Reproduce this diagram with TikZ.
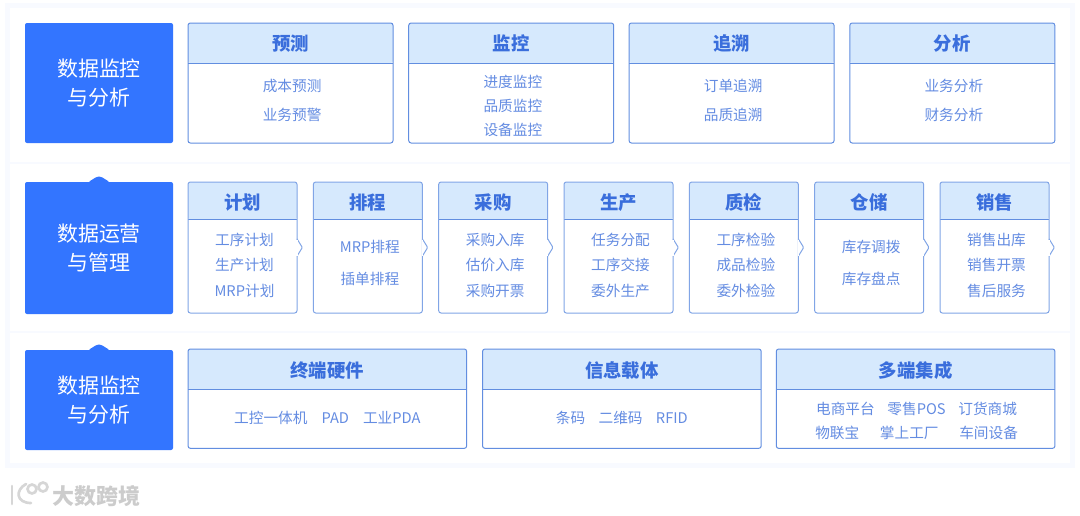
\documentclass[tikz,border=0pt]{standalone}
\usepackage{fontspec}
\setmainfont{Noto Sans CJK SC}
\usetikzlibrary{positioning}
\definecolor{BlockBlue}{RGB}{51,117,255}
\definecolor{HeadBlue}{RGB}{214,233,253}
\definecolor{LineBlue}{RGB}{98,142,224}
\definecolor{TitleBlue}{RGB}{58,110,220}
\definecolor{ItemBlue}{RGB}{100,140,226}
\definecolor{BackTint}{RGB}{248,250,255}
\tikzset{
  panel/.style={fill=white,minimum width=795pt,outer sep=0pt,inner sep=0pt},
  block/.style={fill=BlockBlue,rounded corners=1.5pt,minimum width=111pt,outer sep=0pt,
    align=center,text=white,font=\fontsize{15.7}{22}\selectfont},
  tab/.style={fill=BlockBlue,rounded corners=1pt},
  card/.style={draw=LineBlue,line width=0.75pt,fill=white,rounded corners=1.8pt,outer sep=0pt,inner sep=0pt,
    path picture={\fill[HeadBlue] (path picture bounding box.north west) rectangle ([yshift=-#1]path picture bounding box.north east);
      \draw[LineBlue,line width=0.75pt] ([yshift=-#1]path picture bounding box.north west) -- ([yshift=-#1]path picture bounding box.north east);}},
  cardtop/.style={card=30pt,minimum width=153.75pt,minimum height=90pt},
  cardmid/.style={card=28pt,draw=LineBlue!80,minimum width=81.75pt,minimum height=98.25pt},
  cardlow/.style={card=30.5pt,minimum width=209pt,minimum height=74.5pt},
  cardtitle/.style={text=TitleBlue,font=\fontsize{13.8}{16}\bfseries\selectfont,inner sep=0pt},
  items/.style={text=ItemBlue,align=center,inner sep=0pt,font=\fontsize{11}{#1}\selectfont},
  nub/.style={fill=white,line width=0.75pt,draw=LineBlue!80,rounded corners=0.8pt},
  nubgap/.style={fill=white},
  logoline/.style={draw=gray!32,line width=2pt,line cap=round},
}
\begin{document}
\begin{tikzpicture}[x=0.75pt,y=-0.75pt,node distance=12pt]
\useasboundingbox (0,0) rectangle (1080,515);
\fill[BackTint] (5,3) rectangle (1075,468);
\node[panel,minimum height=115.5pt] (top) at (540,85) {};
\node[panel,minimum height=125pt,below=1.5pt of top] (mid) {};
\node[panel,minimum height=97.5pt,below=1.5pt of mid] (low) {};

% left blocks
\node[block,minimum height=90pt] (l1) at (99,83) {数据监控\\与分析};
\node[block,minimum height=99pt,below=29.25pt of l1] (l2) {数据运营\\与管理};
\node[block,minimum height=75pt,below=27pt of l2] (l3) {数据监控\\与分析};
\fill[tab] ([xshift=-8pt]l2.north) -- ([xshift=-1.5pt,yshift=4pt]l2.north) -- ([xshift=1.5pt,yshift=4pt]l2.north) -- ([xshift=8pt]l2.north) -- cycle;
\fill[tab] ([xshift=-8pt]l3.north) -- ([xshift=-1.5pt,yshift=4pt]l3.north) -- ([xshift=1.5pt,yshift=4pt]l3.north) -- ([xshift=8pt]l3.north) -- cycle;

% top row
\node[cardtop,below right=0pt and 11.25pt of l1.north east] (yc) {};
\node[cardtop,right=11.8pt of yc] (jk) {};
\node[cardtop,right=11.5pt of jk] (zs) {};
\node[cardtop,right=11.8pt of zs] (fx) {};
\node[cardtitle] (yct) at ([yshift=-15.5pt]yc.north) {预测};
\node[cardtitle] (jkt) at ([yshift=-15.5pt]jk.north) {监控};
\node[cardtitle] (zst) at ([yshift=-15.5pt]zs.north) {追溯};
\node[cardtitle] (fxt) at ([yshift=-15.5pt]fx.north) {分析};
\node[items=21.75pt,xshift=1.2pt] (yci) at ([yshift=-58pt]yc.north) {成本预测\\业务预警};
\node[items=18pt,xshift=1.2pt] (jki) at ([yshift=-62.5pt]jk.north) {进度监控\\品质监控\\设备监控};
\node[items=21.75pt,xshift=1.2pt] (zsi) at ([yshift=-58pt]zs.north) {订单追溯\\品质追溯};
\node[items=21.75pt,xshift=1.2pt] (fxi) at ([yshift=-58pt]fx.north) {业务分析\\财务分析};

% middle row
\node[cardmid,below right=0pt and 11.25pt of l2.north east] (jh) {};
\node[cardmid,right=12.25pt of jh] (pc) {};
\node[cardmid,right=12.25pt of pc] (cg) {};
\node[cardmid,right=12.25pt of cg] (sc) {};
\node[cardmid,right=12.25pt of sc] (zj) {};
\node[cardmid,right=12.25pt of zj] (cc) {};
\node[cardmid,right=12.25pt of cc] (xs) {};
\node[cardtitle] (jht) at ([yshift=-15.5pt]jh.north) {计划};
\node[cardtitle] (pct) at ([yshift=-15.5pt]pc.north) {排程};
\node[cardtitle] (cgt) at ([yshift=-15.5pt]cg.north) {采购};
\node[cardtitle] (sct) at ([yshift=-15.5pt]sc.north) {生产};
\node[cardtitle] (zjt) at ([yshift=-15.5pt]zj.north) {质检};
\node[cardtitle] (cct) at ([yshift=-15.5pt]cc.north) {仓储};
\node[cardtitle] (xst) at ([yshift=-15.5pt]xs.north) {销售};
\node[items=18.9pt,xshift=1.5pt] (jhi) at ([yshift=-62.5pt]jh.north) {工序计划\\生产计划\\MRP计划};
\node[items=24pt,xshift=1.5pt] (pci) at ([yshift=-60.5pt]pc.north) {MRP排程\\插单排程};
\node[items=18.9pt,xshift=1.5pt] (cgi) at ([yshift=-62.5pt]cg.north) {采购入库\\估价入库\\采购开票};
\node[items=18.9pt,xshift=1.5pt] (sci) at ([yshift=-62.5pt]sc.north) {任务分配\\工序交接\\委外生产};
\node[items=18.9pt,xshift=1.5pt] (zji) at ([yshift=-62.5pt]zj.north) {工序检验\\成品检验\\委外检验};
\node[items=24pt,xshift=1.5pt] (cci) at ([yshift=-60.5pt]cc.north) {库存调拨\\库存盘点};
\node[items=18.9pt,xshift=1.5pt] (xsi) at ([yshift=-62.5pt]xs.north) {销售出库\\销售开票\\售后服务};
\draw[nub] ([yshift=6.5pt]jh.east) -- ([xshift=4pt]jh.east) -- ([yshift=-6.5pt]jh.east);
\draw[nub] ([yshift=6.5pt]pc.east) -- ([xshift=4pt]pc.east) -- ([yshift=-6.5pt]pc.east);
\draw[nub] ([yshift=6.5pt]cg.east) -- ([xshift=4pt]cg.east) -- ([yshift=-6.5pt]cg.east);
\draw[nub] ([yshift=6.5pt]sc.east) -- ([xshift=4pt]sc.east) -- ([yshift=-6.5pt]sc.east);
\draw[nub] ([yshift=6.5pt]zj.east) -- ([xshift=4pt]zj.east) -- ([yshift=-6.5pt]zj.east);
\draw[nub] ([yshift=6.5pt]cc.east) -- ([xshift=4pt]cc.east) -- ([yshift=-6.5pt]cc.east);
\draw[nub] ([yshift=6.5pt]xs.east) -- ([xshift=4pt]xs.east) -- ([yshift=-6.5pt]xs.east);
\fill[nubgap] ([xshift=-0.5pt,yshift=6pt]jh.east) rectangle ([xshift=0.5pt,yshift=-6pt]jh.east);
\fill[nubgap] ([xshift=-0.5pt,yshift=6pt]pc.east) rectangle ([xshift=0.5pt,yshift=-6pt]pc.east);
\fill[nubgap] ([xshift=-0.5pt,yshift=6pt]cg.east) rectangle ([xshift=0.5pt,yshift=-6pt]cg.east);
\fill[nubgap] ([xshift=-0.5pt,yshift=6pt]sc.east) rectangle ([xshift=0.5pt,yshift=-6pt]sc.east);
\fill[nubgap] ([xshift=-0.5pt,yshift=6pt]zj.east) rectangle ([xshift=0.5pt,yshift=-6pt]zj.east);
\fill[nubgap] ([xshift=-0.5pt,yshift=6pt]cc.east) rectangle ([xshift=0.5pt,yshift=-6pt]cc.east);
\fill[nubgap] ([xshift=-0.5pt,yshift=6pt]xs.east) rectangle ([xshift=0.5pt,yshift=-6pt]xs.east);

% bottom row
\node[cardlow,below right=-0.75pt and 11.25pt of l3.north east] (yj) {};
\node[cardlow,right=11.9pt of yj] (zt) {};
\node[cardlow,right=11.3pt of zt] (jc) {};
\node[cardtitle] (yjt) at ([yshift=-16pt]yj.north) {终端硬件};
\node[cardtitle] (ztt) at ([yshift=-16pt]zt.north) {信息载体};
\node[cardtitle] (jct) at ([yshift=-16pt]jc.north) {多端集成};
\node[items=18pt] (yji) at ([yshift=-52pt]yj.north) {工控一体机\hspace{10.5pt}PAD\hspace{10.5pt}工业PDA};
\node[items=18pt] (zti) at ([yshift=-52pt]zt.north) {条码\hspace{10pt}二维码\hspace{10pt}RFID};
\node[items=18pt,xshift=0.75pt] (jci) at ([yshift=-54pt]jc.north) {电商平台\hspace{9.5pt}零售POS\hspace{9.5pt}订货商城\\物联宝\hspace{15.5pt}掌上工厂\hspace{15.5pt}车间设备};

% watermark
\draw[logoline] (12,486) -- (12,504);
\draw[logoline] (26,484) .. controls (15,490) and (16,503) .. (31,503);
\draw[logoline] (32,489) circle (4.5);
\draw[logoline] (43,487) circle (4.5);
\node[text=gray!40,font=\fontsize{16.5}{20}\bfseries\selectfont,inner sep=0pt] (wm) at (96,496) {大数跨境};
\end{tikzpicture}
\end{document}
